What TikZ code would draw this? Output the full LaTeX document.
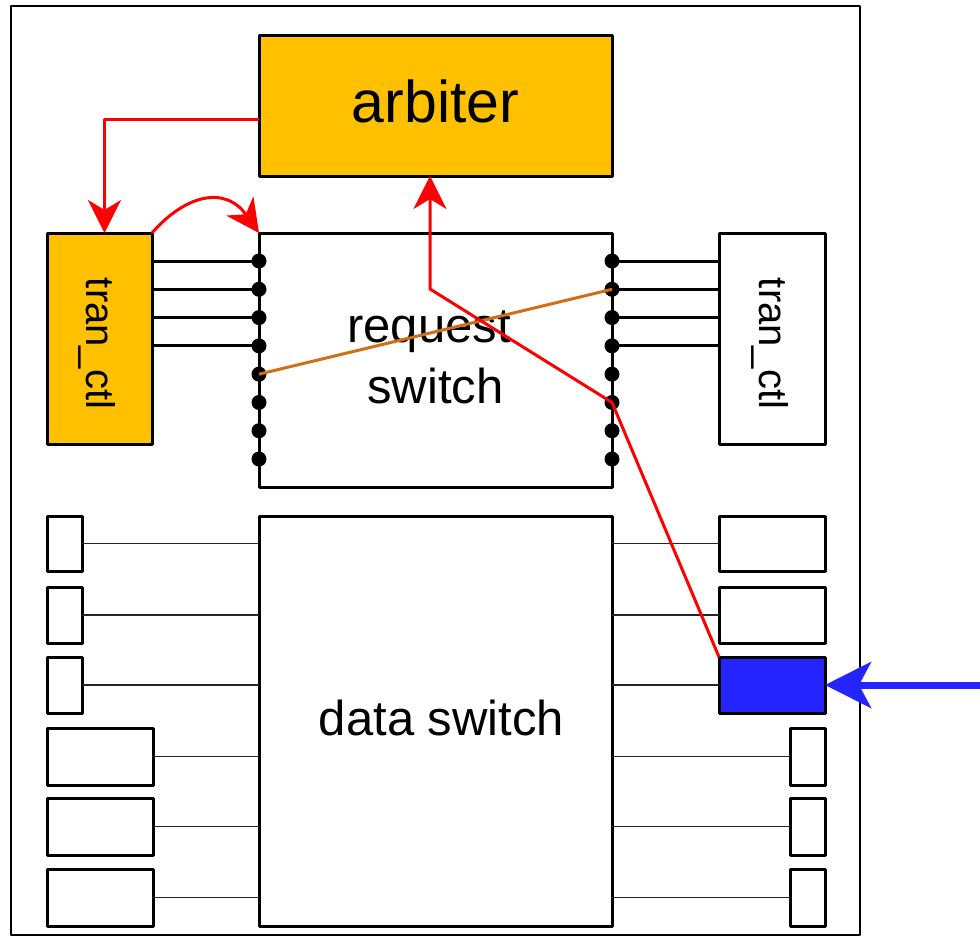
\documentclass[tikz,border=0pt]{standalone}
\usepackage{fontspec}
\setmainfont{Liberation Sans}
\usetikzlibrary{arrows.meta}
\definecolor{gold}{RGB}{255,192,0}
\definecolor{burnt}{RGB}{210,110,20}
\definecolor{bblue}{RGB}{36,36,255}
\definecolor{rred}{RGB}{255,0,0}
\newcommand\fArb{\fontsize{59pt}{59pt}\selectfont}
\newcommand\fBig{\fontsize{49pt}{61pt}\selectfont}
\newcommand\fTc{\fontsize{40pt}{40pt}\selectfont}
\begin{document}
\begin{tikzpicture}[x=1pt,y=-1pt,
  box/.style={draw=black, line width=3pt, inner sep=0pt, outer sep=0pt, anchor=north west, line join=round},
  pdot/.style={circle, fill=black, draw=none, inner sep=0pt, minimum size=15pt},
  wire/.style={line width=3pt},
  thinwire/.style={line width=1.3pt, black!85},
  sig/.style={draw=rred, line width=3pt, line join=round},
  sigarrow/.style={-{Stealth[length=33pt,width=33pt,inset=10pt]}},
  lbl/.style={inner sep=0pt, outer sep=0pt, text=black},
]
\useasboundingbox (0,0) rectangle (980,937);
\node[box, line width=2.7pt, minimum width=849pt, minimum height=929pt] (frame) at (11,6) {};

% top blocks
\node[box, fill=gold, minimum width=353pt, minimum height=141pt] (arb) at (259,35) {};
\node[lbl, font=\fArb] (arbtxt) at ([yshift=4pt]arb.center) {arbiter};

\node[box, fill=gold, minimum width=105pt, minimum height=211pt] (tl) at (47,233) {};
\node[lbl, rotate=-90, font=\fTc] (tltxt) at ([xshift=-2pt,yshift=-5pt]tl.center) {tran\_ctl};

\node[box, fill=white, minimum width=353pt, minimum height=254pt] (rs) at (259,233) {};
\node[lbl, align=center, font=\fBig] (rstxt) at ([yshift=3pt]rs.center) {request\kern13pt\\switch};

\node[box, fill=white, minimum width=106pt, minimum height=211pt] (tr) at (719,233) {};
\node[lbl, rotate=-90, font=\fTc] (trtxt) at ([xshift=-2pt,yshift=-5pt]tr.center) {tran\_ctl};

% pins
\foreach \i in {1,...,8} {
  \node[pdot] (L\i) at (259,{261+28.29*(\i-1)}) {};
  \node[pdot] (R\i) at (612,{261+28.29*(\i-1)}) {};
}
\foreach \i in {1,...,4} {
  \draw[wire] (tl.east |- L\i.center) -- (L\i.center);
  \draw[wire] (R\i.center) -- (tr.west |- R\i.center);
}
\draw[burnt, line width=3pt] (L5.center) -- (R2.center);

% data switch
\node[box, fill=white, minimum width=353pt, minimum height=410pt] (ds) at (259,516) {};
\node[lbl, font=\fBig] (dstxt) at ([xshift=6pt,yshift=3pt]ds.center) {data switch};

\node[box, minimum width=35pt, minimum height=55pt] (lb1) at (47,516) {};
\node[box, minimum width=35pt, minimum height=56pt] (lb2) at (47,587) {};
\node[box, minimum width=35pt, minimum height=56pt] (lb3) at (47,657) {};
\node[box, minimum width=106pt, minimum height=57pt] (lb4) at (47,728) {};
\node[box, minimum width=106pt, minimum height=57pt] (lb5) at (47,798) {};
\node[box, minimum width=106pt, minimum height=57pt] (lb6) at (47,869) {};

\node[box, minimum width=106pt, minimum height=55pt] (rb1) at (719,516) {};
\node[box, minimum width=106pt, minimum height=56pt] (rb2) at (719,587) {};
\node[box, fill=bblue, minimum width=106pt, minimum height=56pt] (rb3) at (719,657) {};
\node[box, minimum width=35pt, minimum height=57pt] (rb4) at (790,728) {};
\node[box, minimum width=35pt, minimum height=57pt] (rb5) at (790,798) {};
\node[box, minimum width=35pt, minimum height=57pt] (rb6) at (790,869) {};

\foreach \i in {1,...,6} {
  \draw[thinwire] (lb\i.east) -- (ds.west |- lb\i.east);
  \draw[thinwire] (ds.east |- rb\i.west) -- (rb\i.west);
}

% red signal paths
\coordinate (bend) at (430,289);
\draw[sig, sigarrow] (rb3.north west) -- (R6.center) -- (bend) -- (bend |- arb.south);
\draw[sig, sigarrow] ([yshift=-14pt]arb.west) -| ([xshift=5pt]tl.north);
\draw[sig, sigarrow] (tl.north east) .. controls +(33,-38) and +(-34,-48) .. (rs.north west);

% incoming blue arrow
\coordinate (bin) at (980,685);
\draw[bblue, line width=7pt, -{Stealth[length=46pt,width=46pt,inset=12pt]}] (bin) -- (rb3.east);
\end{tikzpicture}
\end{document}
